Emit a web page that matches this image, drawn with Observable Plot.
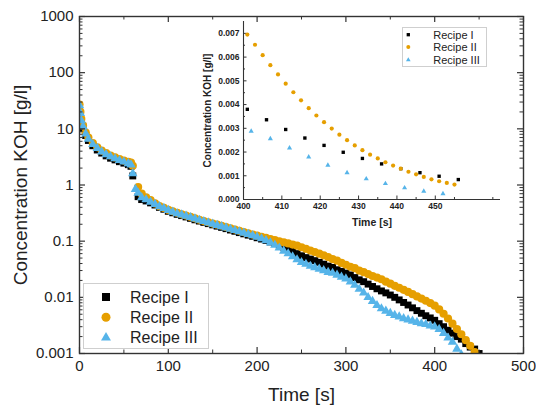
<!DOCTYPE html>
<html><head><meta charset="utf-8">
<script src="https://cdn.jsdelivr.net/npm/d3@7"></script>
<script src="https://cdn.jsdelivr.net/npm/@observablehq/plot@0.6"></script>
<style>
body{margin:0;background:#fff;}
#wrap{position:relative;width:536px;height:407px;background:#fff;}
#wrap > svg{position:absolute;}
</style></head><body><div id="wrap"></div>
<script>
// ---------- data ----------
const seriesNames = ["Recipe I", "Recipe II", "Recipe III"];
const seriesColors = ["#000000", "#E69F00", "#56B4E9"];

const xTicks = [0, 100, 200, 300, 400, 500];
const xTickLabels = ["0", "100", "200", "300", "400", "500"];
const xMinorTicks = [50, 150, 250, 350, 450];
const yTicks = [0.001, 0.01, 0.1, 1, 10, 100, 1000];
const yTickLabels = ["0.001", "0.01", "0.1", "1", "10", "100", "1000"];

const mainTime = [0,1,2,4,7,10,15,20,25,30,35,40,45,50,55,58,60,63,66,
70,75,80,85,90,95,100,105,110,115,120,125,130,135,140,145,150,155,160,165,
170,175,180,185,190,195,200,205,210,215,220,225,230,235,240,245,250,255,260,265,
270,275,280,285,290,295,300,305,310,315,320,325,330,335,340,345,350,355,360,365,
370,375,380,385,390,395,400,405,410,415,420,425,430,435,440,445,450,455];

const recipeI = [20,13.5,12,10,7.6,6.2,5.0,4.2,3.7,3.3,3.0,2.8,2.6,2.45,2.3,2.15,1.45,null,0.62,
0.55,0.52,0.48,0.44,0.40,0.37,0.34,0.32,0.30,0.285,
0.27,0.255,0.24,0.228,0.216,0.205,0.195,0.185,0.176,0.167,
0.158,0.150,0.142,0.135,0.128,0.122,0.115,0.109,0.103,0.097,
0.091,0.085,0.078,0.072,0.066,0.060,0.055,0.051,0.048,0.045,
0.042,0.039,0.036,0.034,0.031,0.029,0.027,0.025,0.0225,0.0205,
0.0190,0.0172,0.0156,0.0142,0.0130,0.0120,0.0110,0.0100,0.0090,0.0081,
0.0073,0.0065,0.0058,0.0052,0.0047,0.0043,0.0039,0.0034,0.0030,0.0026,
0.0023,0.0020,0.0018,0.0015,0.0013,0.0012,0.0010,0.00086];

const recipeII = [27,20,15,11.5,8.6,7.0,5.6,4.7,4.1,3.7,3.35,3.1,2.9,2.72,2.58,2.5,2.2,null,0.92,
0.70,0.60,0.54,0.47,0.42,0.39,0.36,0.34,0.32,0.30,
0.285,0.27,0.255,0.24,0.228,0.217,0.206,0.197,0.188,0.178,
0.169,0.161,0.153,0.145,0.138,0.131,0.125,0.119,0.114,0.109,
0.104,0.099,0.095,0.091,0.087,0.083,0.078,0.073,0.068,0.064,
0.060,0.056,0.052,0.048,0.045,0.041,0.038,0.035,0.033,0.030,
0.028,0.026,0.024,0.0225,0.021,0.019,0.0175,0.016,0.0148,0.0136,
0.0125,0.0114,0.0104,0.0095,0.0087,0.0079,0.0071,0.0061,0.0051,0.0042,
0.0034,0.00273,0.0022,0.00173,0.00137,0.00106,0.00082,0.00066];

const recipeIII = [26,19,14,11,8.2,6.6,5.3,4.5,3.9,3.5,3.2,2.95,2.75,2.58,2.42,2.3,1.6,0.84,0.72,
0.60,0.55,0.50,0.455,0.415,0.385,0.355,0.33,0.31,0.295,
0.28,0.265,0.25,0.237,0.225,0.213,0.202,0.192,0.182,0.173,
0.164,0.156,0.148,0.140,0.133,0.126,0.119,0.111,0.103,0.094,
0.085,0.076,0.067,0.060,0.053,0.047,0.042,0.039,0.036,0.034,
0.032,0.030,0.028,0.027,0.025,0.023,0.0215,0.019,0.0165,0.014,
0.0120,0.0100,0.0085,0.0072,0.0063,0.0057,0.0052,0.0048,0.0045,0.0042,
0.0040,0.0038,0.0036,0.0034,0.0033,0.0031,0.0030,0.0027,0.0023,0.0019,
0.0016,0.0012,0.00095,0.00075,0.00055,0.0004,0.0003,null];

// inset data
const insetXTicks = [400, 410, 420, 430, 440, 450];
const insetXMinor = [405, 415, 425, 435, 445, 455, 465];
const insetYTicks = [0, 0.001, 0.002, 0.003, 0.004, 0.005, 0.006, 0.007];
const insetYTickLabels = ["0.000","0.001","0.002","0.003","0.004","0.005","0.006","0.007"];
const insetTimeI = [401,406,411,416,421,426,431,436,441,446,451,456];
const insetI = [0.0038,0.00336,0.00295,0.00259,0.00228,0.00199,0.00173,0.0015,0.0013,0.00113,0.00098,0.00084];
const insetTimeII = [401,403,405,407,409,411,413,415,417,419,421,423,425,427,429,431,433,435,437,439,441,443,445,447,449,451,453,455];
const insetII = [0.00695,0.00652,0.00608,0.00566,0.00527,0.00488,0.00452,0.00418,0.00385,0.00354,0.00326,0.00299,0.00273,0.0025,0.00228,0.00208,0.00189,0.00173,0.00157,0.00143,0.0013,0.00117,0.00106,0.00095,0.00085,0.00077,0.0007,0.00063];
const insetTimeIII = [402,407,412,417,422,427,432,437,442,447,452];
const insetIII = [0.00288,0.00256,0.00217,0.00179,0.00144,0.00113,0.00087,0.00067,0.00049,0.00035,0.00024];

// ---------- chart ----------
const FONT = '"Liberation Sans", Arial, sans-serif';
const wrap = document.getElementById("wrap");
const W = 536, H = 407, ML = 79, MR = 13, MT = 16, MB = 54;
const FW = W - ML - MR, FH = H - MT - MB;
const AX = "#333";

const rows = vals => mainTime.map((t, i) => ({t, v: vals[i]})).filter(d => d.v != null);
const pairs = (ts, vs) => ts.map((t, i) => ({t, v: vs[i]}));

const yMinor = [];
for (const d of yTicks.slice(0, -1)) for (let k = 2; k < 10; k++) yMinor.push(d * k);

function fixLabels(svg, sizes) {
  svg.querySelectorAll("text").forEach(t => {
    const raw = t.textContent;
    const clean = raw.replace(/[\u2190-\u2193]/g, "").trim();
    if (sizes[clean]) {
      t.textContent = clean;
      t.style.fontSize = sizes[clean];
    }
  });
}

const main = Plot.plot({
  width: W, height: H,
  marginLeft: ML, marginRight: MR, marginTop: MT, marginBottom: MB,
  style: {fontFamily: FONT, fontSize: "15px", color: "#222", background: "transparent", overflow: "visible"},
  x: {domain: [0, 500], ticks: xTicks, tickSize: 0, tickPadding: 7,
      tickFormat: d => xTickLabels[xTicks.indexOf(d)],
      label: "Time [s]", labelArrow: false, labelAnchor: "center", labelOffset: 47.5},
  y: {type: "log", domain: [0.001, 1000], ticks: yTicks, tickSize: 0, tickPadding: 6,
      tickFormat: d => yTickLabels[yTicks.indexOf(d)],
      label: "Concentration KOH [g/l]", labelArrow: false, labelAnchor: "center", labelOffset: 66},
  marks: [
    Plot.dot(rows(recipeI), {x: "t", y: "v", symbol: "square", r: 3.9, fill: seriesColors[0], clip: true}),
    Plot.dot(rows(recipeII), {x: "t", y: "v", symbol: "circle", r: 4.1, fill: seriesColors[1], clip: true}),
    Plot.dot(rows(recipeIII), {x: "t", y: "v", symbol: "triangle", r: 3.5, fill: seriesColors[2], clip: true}),
    Plot.tickX(xTicks, {insetTop: FH - 6, stroke: AX, strokeWidth: 1.2}),
    Plot.tickX(xTicks, {insetBottom: FH - 6, stroke: AX, strokeWidth: 1.2}),
    Plot.tickX(xMinorTicks, {insetTop: FH - 3.5, stroke: AX}),
    Plot.tickX(xMinorTicks, {insetBottom: FH - 3.5, stroke: AX}),
    Plot.tickY(yTicks, {insetRight: FW - 6, stroke: AX, strokeWidth: 1.2}),
    Plot.tickY(yTicks, {insetLeft: FW - 6, stroke: AX, strokeWidth: 1.2}),
    Plot.tickY(yMinor, {insetRight: FW - 3.5, stroke: AX}),
    Plot.tickY(yMinor, {insetLeft: FW - 3.5, stroke: AX}),
    Plot.frame({stroke: AX, strokeWidth: 1.4})
  ]
});
main.style.left = "0px"; main.style.top = "0px";
fixLabels(main, {"Time [s]": "19px", "Concentration KOH [g/l]": "19px"});
wrap.append(main);

// inset
const IW = 312, IH = 229, IML = 50, IMR = 5, IMT = 21, IMB = 30;
const IFW = IW - IML - IMR, IFH = IH - IMT - IMB;
const yMinorInset = [0.0005, 0.0015, 0.0025, 0.0035, 0.0045, 0.0055, 0.0065];
const inset = Plot.plot({
  width: IW, height: IH, marginLeft: IML, marginRight: IMR, marginTop: IMT, marginBottom: IMB,
  style: {fontFamily: FONT, fontSize: "8.5px", fontWeight: "bold", color: "#222", background: "transparent", overflow: "visible"},
  x: {domain: [400, 467], ticks: insetXTicks, tickSize: 0, tickPadding: 3,
      tickFormat: d => String(d), label: "Time [s]", labelArrow: false, labelAnchor: "center", labelOffset: 26.5},
  y: {domain: [0, 0.0075], ticks: insetYTicks, tickSize: 0, tickPadding: 4,
      tickFormat: d => insetYTickLabels[insetYTicks.indexOf(d)],
      label: "Concentration KOH [g/l]", labelArrow: false, labelAnchor: "center", labelOffset: 40},
  marks: [
    Plot.ruleX([400], {stroke: AX, strokeWidth: 1.1}),
    Plot.ruleY([0], {stroke: AX, strokeWidth: 1.1}),
    Plot.tickX(insetXTicks, {insetTop: IFH - 3.5, stroke: AX}),
    Plot.tickX(insetXMinor, {insetTop: IFH - 2, stroke: AX}),
    Plot.tickY(insetYTicks, {insetRight: IFW - 3.5, stroke: AX}),
    Plot.tickY(yMinorInset, {insetRight: IFW - 2, stroke: AX}),
    Plot.dot(pairs(insetTimeI, insetI), {x: "t", y: "v", symbol: "square", r: 1.9, fill: seriesColors[0]}),
    Plot.dot(pairs(insetTimeII, insetII), {x: "t", y: "v", symbol: "circle", r: 2.1, fill: seriesColors[1]}),
    Plot.dot(pairs(insetTimeIII, insetIII), {x: "t", y: "v", symbol: "triangle", r: 1.9, fill: seriesColors[2]})
  ]
});
inset.style.left = "193px"; inset.style.top = "0px";
fixLabels(inset, {"Time [s]": "10.5px", "Concentration KOH [g/l]": "10px"});
wrap.append(inset);

// legends
const symbols = [d3.symbolSquare, d3.symbolCircle, d3.symbolTriangle];
function makeLegend({left, top, width, height, rowY, markerX, textX, fontSize, sizes}) {
  const svg = d3.create("svg").attr("width", width).attr("height", height)
    .style("left", left + "px").style("top", top + "px").style("overflow", "visible");
  svg.append("rect").attr("x", 0.5).attr("y", 0.5).attr("width", width - 1).attr("height", height - 1)
    .attr("fill", "#fff").attr("stroke", "#cfcfcf");
  seriesNames.forEach((name, i) => {
    svg.append("path").attr("d", d3.symbol(symbols[i], sizes[i])())
      .attr("transform", `translate(${markerX},${rowY[i]})`).attr("fill", seriesColors[i]);
    svg.append("text").attr("x", textX).attr("y", rowY[i]).attr("dy", "0.35em")
      .attr("font-size", fontSize).attr("font-family", FONT).attr("fill", "#222").text(name);
  });
  wrap.append(svg.node());
}
makeLegend({left: 83, top: 283, width: 126, height: 66, rowY: [14, 34.3, 54.7], markerX: 23, textX: 47,
  fontSize: 16, sizes: [64, 63.6, 43]});
makeLegend({left: 402, top: 27, width: 85, height: 40, rowY: [7.7, 20, 33], markerX: 6.3, textX: 31.3,
  fontSize: 11, sizes: [11, 12.6, 9.5]});
</script></body></html>
